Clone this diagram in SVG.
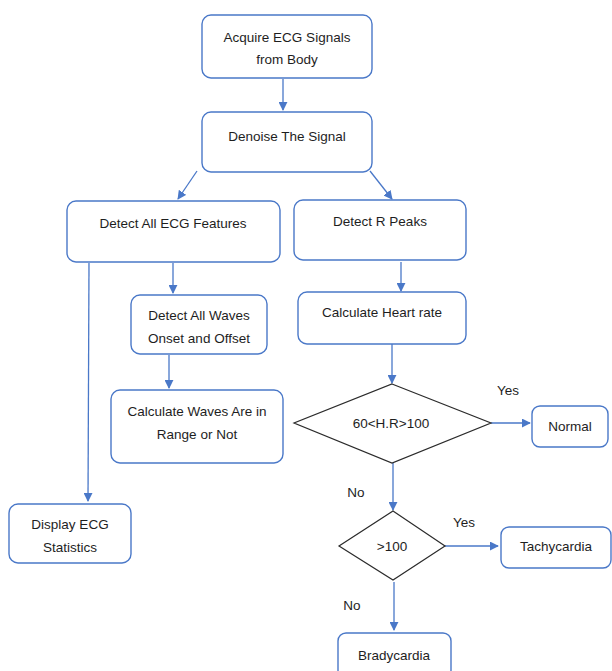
<svg xmlns="http://www.w3.org/2000/svg" width="612" height="671" viewBox="0 0 612 671">
  <style>
    .box { fill: #ffffff; stroke: #4a78c8; stroke-width: 1.4; }
    .dia { fill: #ffffff; stroke: #2b2b2b; stroke-width: 1.2; }
    .lbl { font-family: "Liberation Sans", Arial, sans-serif; font-size: 13.5px; fill: #1e1e1e; text-anchor: middle; }
    .edge { fill: none; stroke: #4a78c8; stroke-width: 1.3; marker-end: url(#arrow); }
  </style>
  <defs>
    <marker id="arrow" viewBox="0 0 10 10" refX="9" refY="5" markerWidth="9" markerHeight="9" markerUnits="userSpaceOnUse" orient="auto">
      <path d="M0,0 L10,5 L0,10 z" fill="#4a78c8"/>
    </marker>
  </defs>
  <rect width="612" height="671" fill="#ffffff"/>

  <g id="connectors">
    <line class="edge" x1="283" y1="79" x2="283" y2="110"/>
    <line class="edge" x1="197" y1="171" x2="178" y2="199"/>
    <line class="edge" x1="370" y1="171" x2="392" y2="199"/>
    <line class="edge" x1="173" y1="263" x2="173" y2="293"/>
    <line class="edge" x1="401" y1="262" x2="401" y2="291"/>
    <line class="edge" x1="89" y1="263" x2="88" y2="501"/>
    <line class="edge" x1="169" y1="355" x2="169" y2="388"/>
    <line class="edge" x1="392" y1="344" x2="392" y2="383"/>
    <line class="edge" x1="491" y1="423" x2="530" y2="423"/>
    <line class="edge" x1="393" y1="463" x2="393" y2="510"/>
    <line class="edge" x1="445" y1="546" x2="498" y2="546"/>
    <line class="edge" x1="394" y1="582" x2="394" y2="630"/>
  </g>

  <g id="acquire">
    <rect class="box" x="202" y="15" width="170" height="63" rx="9"/>
    <text class="lbl" x="287" y="42">Acquire ECG Signals</text>
    <text class="lbl" x="287" y="64">from Body</text>
  </g>
  <g id="denoise">
    <rect class="box" x="202" y="112" width="170" height="60" rx="9"/>
    <text class="lbl" x="287" y="141">Denoise The Signal</text>
  </g>
  <g id="features">
    <rect class="box" x="67" y="201" width="213" height="61" rx="9"/>
    <text class="lbl" x="173" y="228">Detect All ECG Features</text>
  </g>
  <g id="rpeaks">
    <rect class="box" x="294" y="200" width="172" height="60" rx="9"/>
    <text class="lbl" x="380" y="226">Detect R Peaks</text>
  </g>
  <g id="waves">
    <rect class="box" x="131" y="295" width="136" height="59" rx="9"/>
    <text class="lbl" x="199" y="320">Detect All Waves</text>
    <text class="lbl" x="199" y="343">Onset and Offset</text>
  </g>
  <g id="heartrate">
    <rect class="box" x="298" y="292" width="168" height="52" rx="9"/>
    <text class="lbl" x="382" y="317">Calculate Heart rate</text>
  </g>
  <g id="range">
    <rect class="box" x="111" y="390" width="172" height="73" rx="9"/>
    <text class="lbl" x="197" y="416">Calculate Waves Are in</text>
    <text class="lbl" x="197" y="439">Range or Not</text>
  </g>
  <g id="display">
    <rect class="box" x="9" y="504" width="122" height="59" rx="9"/>
    <text class="lbl" x="70" y="529">Display ECG</text>
    <text class="lbl" x="70" y="552">Statistics</text>
  </g>
  <g id="check-range">
    <polygon class="dia" points="392,384 491,423 392,463 294,423"/>
    <text class="lbl" x="391" y="428">60&lt;H.R&gt;100</text>
  </g>
  <g id="normal">
    <rect class="box" x="532" y="406" width="76" height="41" rx="8"/>
    <text class="lbl" x="570" y="431">Normal</text>
  </g>
  <g id="check-high">
    <polygon class="dia" points="393,511 445,546 393,580 339,546"/>
    <text class="lbl" x="392" y="551">&gt;100</text>
  </g>
  <g id="tachycardia">
    <rect class="box" x="501" y="527" width="110" height="41" rx="8"/>
    <text class="lbl" x="556" y="551">Tachycardia</text>
  </g>
  <g id="bradycardia">
    <rect class="box" x="338" y="633" width="113" height="45" rx="8"/>
    <text class="lbl" x="394" y="660">Bradycardia</text>
  </g>

  <g id="branch-labels">
    <text class="lbl" x="508" y="395">Yes</text>
    <text class="lbl" x="356" y="497">No</text>
    <text class="lbl" x="464" y="527">Yes</text>
    <text class="lbl" x="352" y="610">No</text>
  </g>
</svg>
